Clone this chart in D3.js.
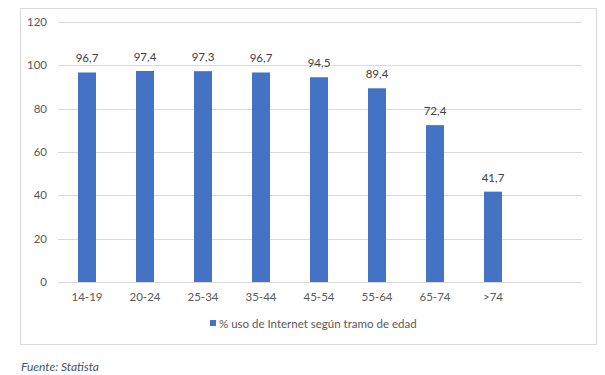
<!DOCTYPE html>
<html>
<head>
<meta charset="utf-8">
<script src="https://cdn.jsdelivr.net/npm/d3@7"></script>
<style>
  body { margin: 0; background: #fff; }
  text { font-family: Lato, "Open Sans", sans-serif; fill: #595959; }
</style>
</head>
<body>
<div id="chart"></div>
<script>
const categories = ["14-19", "20-24", "25-34", "35-44", "45-54", "55-64", "65-74", ">74"]
const values = [96.7, 97.4, 97.3, 96.7, 94.5, 89.4, 72.4, 41.7]
const yTicks = [0, 20, 40, 60, 80, 100, 120]
const seriesName = "% uso de Internet según tramo de edad"
const source = "Fuente: Statista"

const width = 605,
  height = 375

const svg = d3.select("#chart").append("svg").attr("width", width).attr("height", height)

// chart frame
svg
  .append("rect")
  .attr("x", 20.5)
  .attr("y", 8.5)
  .attr("width", 576)
  .attr("height", 336)
  .attr("fill", "#fff")
  .attr("stroke", "#d9d9d9")

const x = d3.scaleBand().domain(categories).range([58, 522]).paddingInner(0.69).paddingOuter(0.345)
const y = d3.scaleLinear().domain([0, 120]).range([282, 22])

// gridlines
svg
  .selectAll(".grid")
  .data(yTicks)
  .enter()
  .append("line")
  .attr("x1", 58)
  .attr("x2", 582)
  .attr("y1", (d) => Math.round(y(d)) + 0.5)
  .attr("y2", (d) => Math.round(y(d)) + 0.5)
  .style("stroke", "#d9d9d9")

// y tick labels
svg
  .selectAll(".ylab")
  .data(yTicks)
  .enter()
  .append("text")
  .attr("x", 47)
  .attr("y", (d) => y(d) + 4)
  .attr("text-anchor", "end")
  .style("font-size", "11.5px")
  .text((d) => d)

// bars
svg
  .selectAll(".bar")
  .data(values)
  .enter()
  .append("rect")
  .attr("x", (d, i) => x(categories[i]))
  .attr("width", x.bandwidth())
  .attr("y", (d) => y(d))
  .attr("height", (d) => y(0) - y(d))
  .attr("fill", "#4472c4")

// value labels
svg
  .selectAll(".val")
  .data(values)
  .enter()
  .append("text")
  .attr("x", (d, i) => x(categories[i]) + x.bandwidth() / 2)
  .attr("y", (d) => y(d) - 10)
  .attr("text-anchor", "middle")
  .style("font-size", "11.5px")
  .style("fill", "#404040")
  .text((d) => d3.format(".1f")(d).replace(".", ","))

// x labels
svg
  .selectAll(".xlab")
  .data(categories)
  .enter()
  .append("text")
  .attr("x", (d) => x(d) + x.bandwidth() / 2)
  .attr("y", 301)
  .attr("text-anchor", "middle")
  .style("font-size", "11.5px")
  .text((d) => d)

// legend
svg.append("rect").attr("x", 210).attr("y", 320).attr("width", 6).attr("height", 6).attr("fill", "#4472c4")
svg.append("text").attr("x", 219).attr("y", 328).style("font-size", "11.5px").text(seriesName)

// source note
svg
  .append("text")
  .attr("x", 21)
  .attr("y", 371)
  .style("font-size", "12px")
  .style("font-style", "italic")
  .style("fill", "#44546a")
  .text(source)
</script>
</body>
</html>
